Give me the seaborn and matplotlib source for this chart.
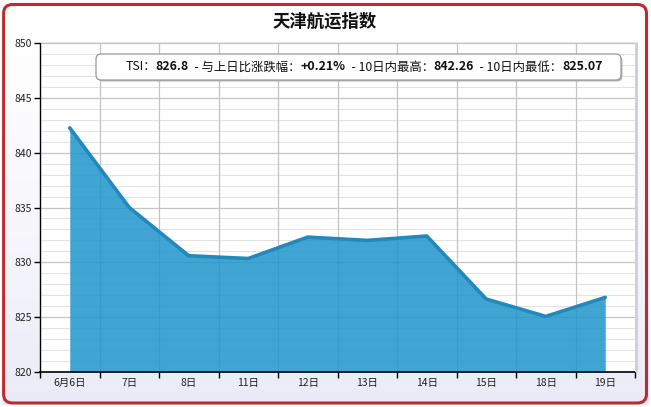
import numpy as np
import pandas as pd
import matplotlib
matplotlib.use("Agg")
import matplotlib.pyplot as plt
from matplotlib.patches import FancyBboxPatch, Rectangle
import seaborn as sns

categories = ["6月6日", "7日", "8日", "11日", "12日", "13日", "14日", "15日", "18日", "19日"]
values = [842.26, 835.0, 830.6, 830.35, 832.3, 832.0, 832.4, 826.65, 825.07, 826.8]
yticks = [820, 825, 830, 835, 840, 845, 850]
title = "天津航运指数"
tip_parts = [("TSI：", "normal"), ("826.8", "bold"), ("  - 与上日比涨跌幅：", "normal"),
             ("+0.21%", "bold"), ("  - 10日内最高：", "normal"), ("842.26", "bold"),
             ("  - 10日内最低：", "normal"), ("825.07", "bold")]

sns.set_theme(style="white")
plt.rcParams['font.family'] = ['Noto Sans CJK SC', 'DejaVu Sans']

W, H = 651, 407
fig = plt.figure(figsize=(W / 100, H / 100), dpi=100)
fig.patch.set_facecolor("white")

# background gradient + red rounded border
bg = fig.add_axes([0, 0, 1, 1], zorder=-10)
bg.set_axis_off()
grad = np.linspace(0, 1, 256).reshape(-1, 1)
top = np.array([1.0, 1.0, 1.0])
bot = np.array([0.92, 0.92, 0.97])
img = top + (bot - top) * grad[..., None] ** 1.5
img = img.reshape(256, 1, 3)
bg.imshow(img, extent=[0, 1, 0, 1], aspect="auto", origin="upper")
bg.set_xlim(0, 1); bg.set_ylim(0, 1)
border = FancyBboxPatch((3.5 / W, 4 / H), (W - 8) / W, (H - 8.5) / H,
                        boxstyle="round,pad=0,rounding_size=0.014",
                        transform=bg.transAxes, fill=False, edgecolor="#bf2a2f", linewidth=2.2,
                        mutation_aspect=W / H)
bg.add_patch(border)
bg.add_patch(Rectangle((0, 0), 1, 1, transform=bg.transAxes, fill=False, edgecolor="white", linewidth=3))

left, right, top_px, bot_px = 40, 635, 43, 372
ax = fig.add_axes([left / W, 1 - bot_px / H, (right - left) / W, (bot_px - top_px) / H])
ax.set_facecolor("white")

df = pd.DataFrame({"cat": categories, "x": np.arange(len(categories)), "value": values})

ax.fill_between(df["x"], df["value"], 820, color="#1f96cc", alpha=0.85, linewidth=0, zorder=2)
sns.lineplot(data=df, x="x", y="value", ax=ax, color="#2388bb", linewidth=2.6, zorder=3,
             solid_joinstyle="round")

ax.set_xlim(-0.5, len(categories) - 0.5)
ax.set_ylim(820, 850)
ax.set_yticks(yticks)
ax.set_yticks(np.arange(820, 851, 1), minor=True)
ax.set_xticks(np.arange(len(categories)))
ax.set_xticklabels(categories)
ax.set_xticks(np.arange(-0.5, len(categories), 1), minor=True)
ax.set_xlabel(""); ax.set_ylabel("")

ax.grid(False)
for y in np.arange(820, 851, 1):
    if y % 5:
        ax.axhline(y, color="#e3e3e3", linewidth=0.8, zorder=0.5)
for y in yticks:
    ax.axhline(y, color="#c4c4c4", linewidth=0.9, zorder=0.6)
for xb in np.arange(0.5, len(categories) - 0.5, 1):
    ax.axvline(xb, color="#c4c4c4", linewidth=0.9, zorder=0.6)

for s in ["top", "right"]:
    ax.spines[s].set_visible(False)
ax.spines["left"].set_color("black"); ax.spines["left"].set_linewidth(1.0)
ax.spines["bottom"].set_color("black"); ax.spines["bottom"].set_linewidth(1.2)
ax.spines["left"].set_zorder(5); ax.spines["bottom"].set_zorder(5)

ax.tick_params(axis="y", which="major", direction="out", length=4, width=1, color="black",
               labelsize=7.5, pad=2, left=True)
ax.tick_params(axis="y", which="minor", length=0)
ax.tick_params(axis="x", which="major", length=0, labelsize=7.5, pad=4)
ax.tick_params(axis="x", which="minor", direction="out", length=4, width=1, color="black", bottom=True)
for lab in ax.get_xticklabels() + ax.get_yticklabels():
    lab.set_color("#222222")

fig.add_artist(Rectangle(((right) / W, 1 - bot_px / H), 3 / W, (bot_px - top_px) / H,
                         transform=fig.transFigure, facecolor="#d0d0d8", edgecolor="none"))
fig.add_artist(Rectangle((left / W, 1 - top_px / H), (right - left + 3) / W, 1.5 / H,
                         transform=fig.transFigure, facecolor="#e6e6ea", edgecolor="none"))

fig.text(325 / W, 1 - 22 / H, title, ha="center", va="center", fontsize=12.5, fontweight="bold",
         color="#111111")

# tooltip box
bx0, bx1, by0, by1 = 96, 621, 54, 80
shadow = FancyBboxPatch(((bx0 + 1.5) / W, 1 - (by1 + 1.5) / H), (bx1 - bx0) / W, (by1 - by0) / H,
                        boxstyle="round,pad=0,rounding_size=0.008", transform=fig.transFigure,
                        facecolor="#b8b8b8", edgecolor="none", mutation_aspect=W / H, zorder=8)
box = FancyBboxPatch((bx0 / W, 1 - by1 / H), (bx1 - bx0) / W, (by1 - by0) / H,
                     boxstyle="round,pad=0,rounding_size=0.008", transform=fig.transFigure,
                     facecolor="white", edgecolor="#9a9a9a", linewidth=0.9, mutation_aspect=W / H,
                     zorder=9)
fig.add_artist(shadow)
fig.add_artist(box)

renderer = fig.canvas.get_renderer()
texts = []
for s, w in tip_parts:
    t = fig.text(0, 1 - 67 / H, s, ha="left", va="center", fontsize=8.9, fontweight=w,
                 color="#111111", zorder=10)
    texts.append(t)
widths = [t.get_window_extent(renderer).width for t in texts]
total = sum(widths)
x = 364 - total / 2
for t, wd in zip(texts, widths):
    t.set_x(x / W)
    x += wd

fig.savefig("out.png", dpi=100)
